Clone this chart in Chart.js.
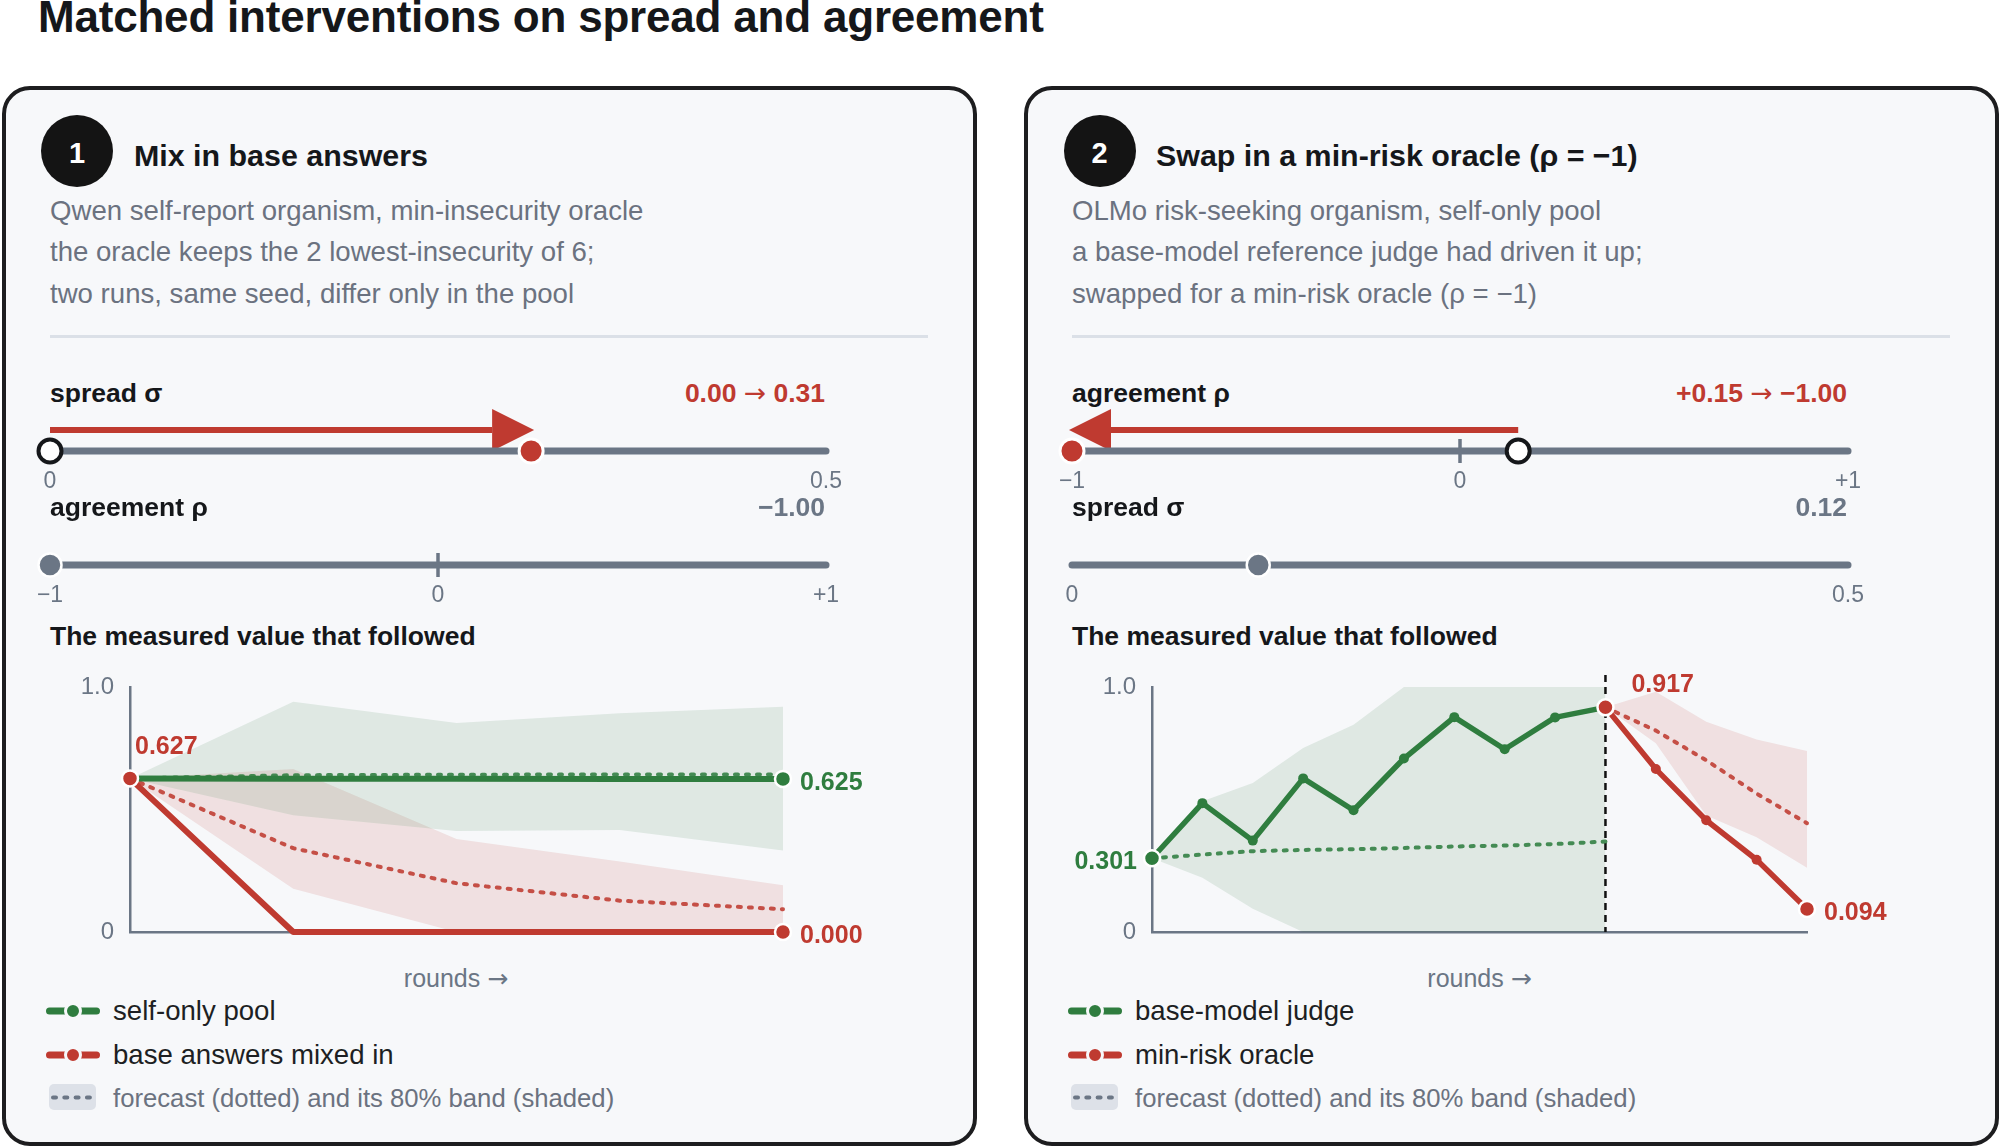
<!DOCTYPE html>
<html>
<head>
<meta charset="utf-8">
<title>Matched interventions on spread and agreement</title>
<script src="https://cdn.jsdelivr.net/npm/chart.js@4.4.1/dist/chart.umd.min.js"></script>
<style>
  html, body { margin: 0; padding: 0; background: #fff; }
  body {
    width: 2000px; height: 1147px; position: relative; overflow: hidden;
    font-family: "Liberation Sans", Arial, Helvetica, sans-serif;
  }
  .panel {
    position: absolute; top: 86px; width: 975px; height: 1060px;
    box-sizing: border-box; border: 4.5px solid #1d1d1f; border-radius: 28px;
    background: #f7f8fa;
  }
  .t { position: absolute; line-height: 1; white-space: nowrap; }
  .arw { font-family: "DejaVu Sans", sans-serif; font-weight: normal; }
  .title { font-weight: bold; font-size: 44px; color: #15171a; letter-spacing: -0.2px; }
  .head { font-weight: bold; font-size: 30.4px; color: #15171a; }
  .sub { font-size: 27.6px; color: #6b7280; }
  .lab { font-weight: bold; font-size: 26.5px; color: #15171a; }
  .val { font-weight: bold; font-size: 26.5px; color: #6b7685; }
  .val.red { color: #bf3a30; }
  .axis { font-size: 25px; color: #6b7685; }
  .key-text { font-size: 27.6px; color: #1d1f23; }
  .key-text.muted { font-size: 25.7px; color: #6b7280; }
  .badge {
    position: absolute; width: 72px; height: 72px; border-radius: 50%; background: #141414;
  }
  .num { font-weight: bold; font-size: 29px; color: #fff; }
  .rule { position: absolute; height: 3px; background: #dbe0e7; }
  canvas, svg { position: absolute; }
</style>
</head>
<body>

<div class="t title" data-x="38" data-base="32.5">Matched interventions on spread and agreement</div>

<!-- panel 1 -->
<div class="panel" style="left:2px"></div>
<div class="badge" style="left:41px; top:115px"></div>
<div class="t num" data-center="77" data-base="164">1</div>
<div class="t head" data-x="134" data-base="165.5">Mix in base answers</div>
<div class="t sub" data-x="50" data-base="220">Qwen self-report organism, min-insecurity oracle</div>
<div class="t sub" data-x="50" data-base="261.5">the oracle keeps the 2 lowest-insecurity of 6;</div>
<div class="t sub" data-x="50" data-base="303">two runs, same seed, differ only in the pool</div>
<div class="rule" style="left:50px; top:335px; width:878px"></div>

<div class="t lab" data-x="50" data-base="402">spread σ</div>
<div class="t val red" id="p1SpreadText" data-right="825" data-base="402"></div>
<canvas id="p1SpreadSlider" width="856" height="100" style="left:10px; top:401px"></canvas>

<div class="t lab" data-x="50" data-base="516">agreement ρ</div>
<div class="t val" id="p1AgreeText" data-right="825" data-base="516"></div>
<canvas id="p1AgreeSlider" width="856" height="100" style="left:10px; top:515px"></canvas>

<div class="t lab" data-x="50" data-base="645">The measured value that followed</div>
<canvas id="p1Trend" width="863" height="302" style="left:40px; top:650px"></canvas>
<div class="t axis" data-center="456" data-base="987">rounds <span class="arw">→</span></div>

<svg style="left:44px; top:1000px" width="58" height="22">
  <line x1="5.5" y1="11" x2="52.5" y2="11" stroke="#2f7d3f" stroke-width="7" stroke-linecap="round"/>
  <circle cx="29" cy="11" r="7.5" fill="#2f7d3f" stroke="#f7f8fa" stroke-width="3"/>
</svg>
<div class="t key-text" data-x="113" data-base="1020.5">self-only pool</div>
<svg style="left:44px; top:1044px" width="58" height="22">
  <line x1="5.5" y1="11" x2="52.5" y2="11" stroke="#bf3a30" stroke-width="7" stroke-linecap="round"/>
  <circle cx="29" cy="11" r="7.5" fill="#bf3a30" stroke="#f7f8fa" stroke-width="3"/>
</svg>
<div class="t key-text" data-x="113" data-base="1064">base answers mixed in</div>
<svg style="left:44px; top:1084px" width="58" height="26">
  <rect x="5" y="0" width="47" height="26" rx="5" fill="#dde1e8"/>
  <line x1="9" y1="13.5" x2="48" y2="13.5" stroke="#6b7685" stroke-width="4" stroke-dasharray="3 8.3" stroke-linecap="round"/>
</svg>
<div class="t key-text muted" data-x="113" data-base="1108">forecast (dotted) and its 80% band (shaded)</div>

<!-- panel 2 -->
<div class="panel" style="left:1024px"></div>
<div class="badge" style="left:1063.5px; top:115px"></div>
<div class="t num" data-center="1099.5" data-base="164">2</div>
<div class="t head" data-x="1156" data-base="165.5">Swap in a min-risk oracle (ρ = −1)</div>
<div class="t sub" data-x="1072" data-base="220">OLMo risk-seeking organism, self-only pool</div>
<div class="t sub" data-x="1072" data-base="261.5">a base-model reference judge had driven it up;</div>
<div class="t sub" data-x="1072" data-base="303">swapped for a min-risk oracle (ρ = −1)</div>
<div class="rule" style="left:1072px; top:335px; width:878px"></div>

<div class="t lab" data-x="1072" data-base="402">agreement ρ</div>
<div class="t val red" id="p2AgreeText" data-right="1847" data-base="402"></div>
<canvas id="p2AgreeSlider" width="856" height="100" style="left:1032px; top:401px"></canvas>

<div class="t lab" data-x="1072" data-base="516">spread σ</div>
<div class="t val" id="p2SpreadText" data-right="1847" data-base="516"></div>
<canvas id="p2SpreadSlider" width="856" height="100" style="left:1032px; top:515px"></canvas>

<div class="t lab" data-x="1072" data-base="645">The measured value that followed</div>
<canvas id="p2Trend" width="865" height="302" style="left:1062px; top:650px"></canvas>
<div class="t axis" data-center="1479.5" data-base="987">rounds <span class="arw">→</span></div>

<svg style="left:1066px; top:1000px" width="58" height="22">
  <line x1="5.5" y1="11" x2="52.5" y2="11" stroke="#2f7d3f" stroke-width="7" stroke-linecap="round"/>
  <circle cx="29" cy="11" r="7.5" fill="#2f7d3f" stroke="#f7f8fa" stroke-width="3"/>
</svg>
<div class="t key-text" data-x="1135" data-base="1020.5">base-model judge</div>
<svg style="left:1066px; top:1044px" width="58" height="22">
  <line x1="5.5" y1="11" x2="52.5" y2="11" stroke="#bf3a30" stroke-width="7" stroke-linecap="round"/>
  <circle cx="29" cy="11" r="7.5" fill="#bf3a30" stroke="#f7f8fa" stroke-width="3"/>
</svg>
<div class="t key-text" data-x="1135" data-base="1064">min-risk oracle</div>
<svg style="left:1066px; top:1084px" width="58" height="26">
  <rect x="5" y="0" width="47" height="26" rx="5" fill="#dde1e8"/>
  <line x1="9" y1="13.5" x2="48" y2="13.5" stroke="#6b7685" stroke-width="4" stroke-dasharray="3 8.3" stroke-linecap="round"/>
</svg>
<div class="t key-text muted" data-x="1135" data-base="1108">forecast (dotted) and its 80% band (shaded)</div>

<script>
// ---- slider scales ----
const spreadRange = [0, 0.5];
const spreadTicks = [0, 0.5];
const spreadTickText = ['0', '0.5'];
const agreeRange = [-1, 1];
const agreeTicks = [-1, 0, 1];
const agreeTickText = ['\u22121', '0', '+1'];

// panel 1: spread pushed from 0 to 0.31, agreement stays at -1
const p1SpreadFrom = 0.00;
const p1SpreadTo = 0.31;
const p1Agreement = -1.00;

// panel 2: agreement pushed from +0.15 to -1, spread stays at 0.12
const p2AgreeFrom = 0.15;
const p2AgreeTo = -1.00;
const p2Spread = 0.12;

// ---- measured value, panel 1 (5 rounds) ----
const p1Rounds = [0, 1, 2, 3, 4];
const p1SelfMeasured = [0.627, 0.626, 0.626, 0.625, 0.625];
const p1SelfForecast = [0.627, 0.640, 0.642, 0.643, 0.643];
const p1SelfBandHigh = [0.627, 0.940, 0.853, 0.893, 0.919];
const p1SelfBandLow  = [0.627, 0.477, 0.412, 0.416, 0.333];
const p1MixedMeasured = [0.627, 0.000, 0.000, 0.000, 0.000];
const p1MixedForecast = [0.627, 0.342, 0.199, 0.128, 0.093];
const p1MixedBandHigh = [0.627, 0.665, 0.380, 0.288, 0.191];
const p1MixedBandLow  = [0.627, 0.177, 0.000, 0.000, 0.000];

// ---- measured value, panel 2 (14 rounds, oracle swapped in at round 9) ----
const p2Rounds = [0, 1, 2, 3, 4, 5, 6, 7, 8, 9, 10, 11, 12, 13];
const p2SwitchRound = 9;
const p2JudgeMeasured = [0.301, 0.526, 0.373, 0.627, 0.497, 0.708, 0.877, 0.746, 0.876, 0.917, null, null, null, null];
const p2JudgeForecast = [0.301, 0.316, 0.330, 0.335, 0.338, 0.343, 0.349, 0.353, 0.359, 0.369, null, null, null, null];
const p2JudgeBandHigh = [0.301, 0.534, 0.608, 0.751, 0.846, 1.000, 1.000, 1.000, 1.000, 1.000, null, null, null, null];
const p2JudgeBandLow  = [0.301, 0.221, 0.095, 0.000, 0.000, 0.000, 0.000, 0.000, 0.000, 0.000, null, null, null, null];
const p2OracleMeasured = [null, null, null, null, null, null, null, null, null, 0.917, 0.665, 0.456, 0.295, 0.094];
const p2OracleForecast = [null, null, null, null, null, null, null, null, null, 0.917, 0.822, 0.701, 0.565, 0.444];
const p2OracleBandHigh = [null, null, null, null, null, null, null, null, null, 0.917, 0.981, 0.858, 0.786, 0.739];
const p2OracleBandLow  = [null, null, null, null, null, null, null, null, null, 0.917, 0.770, 0.476, 0.387, 0.262];

const yTickValues = [0, 1];
const yTickText = ['0', '1.0'];

const GREEN = '#2f7d3f';
const RED = '#bf3a30';
const SLATE = '#6b7685';
const INK = '#15171a';
const FONT = '"Liberation Sans", Arial, Helvetica, sans-serif';

Chart.defaults.font.family = FONT;

function fmt(v, signed) {
    const s = Math.abs(v).toFixed(2);
    if (v < 0) return '\u2212' + s;
    return (signed ? '+' : '') + s;
}

function setArrowText(id, left, right) {
    const el = document.getElementById(id);
    el.innerHTML = '';
    el.append(left + ' ');
    const a = document.createElement('span');
    a.className = 'arw';
    a.textContent = '\u2192';
    el.append(a, ' ' + right);
}

/**
 * Slider: track, markers and the push arrow
 */
const sliderDecor = {
    id: 'sliderDecor',
    beforeDatasetsDraw(chart, args, opts) {
        const { ctx, scales: { x, y } } = chart;
        const yTrack = y.getPixelForValue(0);
        ctx.save();
        if (opts.midTick !== undefined) {
            const xm = x.getPixelForValue(opts.midTick);
            ctx.strokeStyle = SLATE;
            ctx.lineWidth = 3.5;
            ctx.beginPath();
            ctx.moveTo(xm, yTrack - 12);
            ctx.lineTo(xm, yTrack + 12);
            ctx.stroke();
        }
        if (opts.arrow) {
            const xf = x.getPixelForValue(opts.arrow.from);
            const xt = x.getPixelForValue(opts.arrow.to);
            const dir = Math.sign(xt - xf);
            const tip = xt + dir * 3;
            const base = tip - dir * 42;
            const ya = yTrack - 21;
            ctx.strokeStyle = RED;
            ctx.fillStyle = RED;
            ctx.lineWidth = 6;
            ctx.beginPath();
            ctx.moveTo(xf, ya);
            ctx.lineTo(base, ya);
            ctx.stroke();
            ctx.beginPath();
            ctx.moveTo(tip, ya);
            ctx.lineTo(base, ya - 21);
            ctx.lineTo(base, ya + 21);
            ctx.closePath();
            ctx.fill();
        }
        ctx.restore();
    },
    afterDraw(chart, args, opts) {
        const { ctx, scales: { x, y } } = chart;
        const yTrack = y.getPixelForValue(0);
        ctx.save();
        ctx.font = '23px ' + FONT;
        ctx.fillStyle = SLATE;
        ctx.textAlign = 'center';
        ctx.textBaseline = 'alphabetic';
        opts.ticks.forEach((v, i) => {
            ctx.fillText(opts.tickText[i], x.getPixelForValue(v), yTrack + 36.5);
        });
        ctx.restore();
    }
};

function makeSlider(canvasId, s) {
    const datasets = [{
        data: [{ x: s.range[0], y: 0 }, { x: s.range[1], y: 0 }],
        showLine: true,
        borderColor: SLATE,
        borderWidth: 7,
        borderCapStyle: 'round',
        pointRadius: 0,
        order: 5
    }];
    if (s.from !== undefined) {
        datasets.push({
            data: [{ x: s.from, y: 0 }],
            pointRadius: 11.5,
            pointBackgroundColor: '#fff',
            pointBorderColor: INK,
            pointBorderWidth: 4,
            order: 2
        });
    }
    if (s.to !== undefined) {
        datasets.push({
            data: [{ x: s.to, y: 0 }],
            pointRadius: 12,
            pointBackgroundColor: RED,
            pointBorderColor: '#fff',
            pointBorderWidth: 3,
            order: 1
        });
    }
    if (s.value !== undefined) {
        datasets.push({
            data: [{ x: s.value, y: 0 }],
            pointRadius: 11.5,
            pointBackgroundColor: SLATE,
            pointBorderColor: '#fff',
            pointBorderWidth: 2.5,
            order: 1
        });
    }

    new Chart(document.getElementById(canvasId), {
        type: 'scatter',
        data: { datasets: datasets.map(d => ({ clip: false, ...d })) },
        options: {
            responsive: false,
            animation: false,
            events: [],
            layout: { padding: { left: 40, right: 40, top: 30, bottom: 30 } },
            scales: {
                x: { type: 'linear', min: s.range[0], max: s.range[1], display: false },
                y: { type: 'linear', min: -1, max: 1, display: false }
            },
            plugins: {
                legend: { display: false },
                tooltip: { enabled: false },
                sliderDecor: {
                    ticks: s.ticks,
                    tickText: s.tickText,
                    midTick: s.midTick,
                    arrow: s.from !== undefined ? { from: s.from, to: s.to } : null
                }
            }
        },
        plugins: [sliderDecor]
    });
}

/**
 * Measured-value chart: bands, forecasts, measured runs and end labels
 */
const trendDecor = {
    id: 'trendDecor',
    beforeDatasetsDraw(chart) {
        chart.$switchDrawn = false;
    },
    beforeDatasetDraw(chart, args, opts) {
        if (opts.switchRound === undefined || chart.$switchDrawn) return;
        if (args.meta.order !== 5) return;
        chart.$switchDrawn = true;
        const { ctx, chartArea, scales: { x } } = chart;
        const xs = x.getPixelForValue(opts.switchRound);
        ctx.save();
        ctx.strokeStyle = '#111';
        ctx.lineWidth = 2.5;
        ctx.setLineDash([7, 5]);
        ctx.beginPath();
        ctx.moveTo(xs, chartArea.top - 12);
        ctx.lineTo(xs, chartArea.bottom);
        ctx.stroke();
        ctx.restore();
    },
    afterDatasetsDraw(chart, args, opts) {
        const ctx = chart.ctx;
        ctx.save();
        ctx.font = 'bold 25px ' + FONT;
        ctx.textBaseline = 'alphabetic';
        opts.labels.forEach(l => {
            const pt = chart.getDatasetMeta(l.ds).data[l.i];
            const v = chart.data.datasets[l.ds].data[l.i];
            ctx.fillStyle = l.color;
            ctx.textAlign = l.align;
            ctx.fillText(v.toFixed(3), pt.x + l.dx, pt.y + l.dy);
        });
        ctx.restore();
    }
};

function markerRadii(values, first, last, mid) {
    const idx = values.map((v, i) => (v === null ? -1 : i)).filter(i => i >= 0);
    const a = idx[0];
    const b = idx[idx.length - 1];
    return values.map((v, i) => (i === a ? first : i === b ? last : mid));
}

function alpha(hex, a) {
    const n = parseInt(hex.slice(1), 16);
    return `rgba(${n >> 16}, ${(n >> 8) & 255}, ${n & 255}, ${a})`;
}

function makeTrend(canvasId, cfg) {
    const datasets = [];
    cfg.groups.forEach(g => {
        datasets.push({
            data: g.bandHigh, borderWidth: 0, pointRadius: 0, fill: false, order: 10
        });
        datasets.push({
            data: g.bandLow, borderWidth: 0, pointRadius: 0,
            fill: '-1', backgroundColor: alpha(g.color, 0.12), order: 10
        });
        datasets.push({
            data: g.forecast, borderColor: alpha(g.color, 0.88), borderWidth: 4,
            borderDash: [3, 8], borderCapStyle: 'round', pointRadius: 0, order: 5
        });
        const radii = markerRadii(g.measured, g.firstMarker, g.lastMarker, g.midMarker);
        datasets.push({
            data: g.measured,
            borderColor: g.color,
            borderWidth: cfg.lineWidth,
            borderJoinStyle: 'round',
            pointRadius: radii,
            pointBackgroundColor: g.color,
            pointBorderColor: '#fff',
            pointBorderWidth: radii.map(r => (r >= 8 ? 2.5 : 0)),
            order: g.order
        });
    });

    new Chart(document.getElementById(canvasId), {
        type: 'line',
        data: {
            labels: cfg.rounds,
            datasets: datasets.map(d => ({ clip: false, tension: 0, spanGaps: false, ...d }))
        },
        options: {
            responsive: false,
            animation: false,
            events: [],
            layout: { padding: { left: 0, right: cfg.padRight, top: 37, bottom: 0 } },
            scales: {
                x: {
                    type: 'category',
                    offset: false,
                    grid: { display: false, drawTicks: false },
                    border: { display: true, color: SLATE, width: 2.5 },
                    ticks: { display: false },
                    afterFit: s => { s.height = 20; }
                },
                y: {
                    min: 0,
                    max: 1,
                    grid: { display: false, drawTicks: false },
                    border: { display: true, color: SLATE, width: 2.5 },
                    afterBuildTicks: s => { s.ticks = yTickValues.map(v => ({ value: v })); },
                    afterFit: s => { s.width = 90; s.paddingTop = 0; s.paddingBottom = 0; },
                    ticks: {
                        padding: 16,
                        color: SLATE,
                        font: { size: 24 },
                        callback: v => yTickText[yTickValues.indexOf(v)]
                    }
                }
            },
            plugins: {
                legend: { display: false },
                tooltip: { enabled: false },
                trendDecor: { switchRound: cfg.switchRound, labels: cfg.labels }
            }
        },
        plugins: [trendDecor]
    });
}

// ---- text from the values ----
setArrowText('p1SpreadText', fmt(p1SpreadFrom), fmt(p1SpreadTo));
document.getElementById('p1AgreeText').textContent = fmt(p1Agreement);
setArrowText('p2AgreeText', fmt(p2AgreeFrom, true), fmt(p2AgreeTo));
document.getElementById('p2SpreadText').textContent = fmt(p2Spread);

// place text by baseline (Liberation Sans: baseline sits 0.8465em below a line-height:1 box top)
document.querySelectorAll('.t').forEach(el => {
    const fs = parseFloat(getComputedStyle(el).fontSize);
    el.style.top = (parseFloat(el.dataset.base) - 0.8465 * fs) + 'px';
    const w = el.getBoundingClientRect().width;
    if (el.dataset.right) el.style.left = (parseFloat(el.dataset.right) - w) + 'px';
    else if (el.dataset.center) el.style.left = (parseFloat(el.dataset.center) - w / 2) + 'px';
    else el.style.left = el.dataset.x + 'px';
});

// ---- sliders ----
makeSlider('p1SpreadSlider', {
    range: spreadRange, ticks: spreadTicks, tickText: spreadTickText,
    from: p1SpreadFrom, to: p1SpreadTo
});
makeSlider('p1AgreeSlider', {
    range: agreeRange, ticks: agreeTicks, tickText: agreeTickText,
    midTick: 0, value: p1Agreement
});
makeSlider('p2AgreeSlider', {
    range: agreeRange, ticks: agreeTicks, tickText: agreeTickText,
    midTick: 0, from: p2AgreeFrom, to: p2AgreeTo
});
makeSlider('p2SpreadSlider', {
    range: spreadRange, ticks: spreadTicks, tickText: spreadTickText,
    value: p2Spread
});

// ---- measured value charts ----
// dataset indices per group: band high, band low, forecast, measured
makeTrend('p1Trend', {
    rounds: p1Rounds,
    lineWidth: 6,
    padRight: 120,
    groups: [
        { color: GREEN, order: 2, bandHigh: p1SelfBandHigh, bandLow: p1SelfBandLow,
          forecast: p1SelfForecast, measured: p1SelfMeasured, firstMarker: 0, lastMarker: 8, midMarker: 0 },
        { color: RED, order: 1, bandHigh: p1MixedBandHigh, bandLow: p1MixedBandLow,
          forecast: p1MixedForecast, measured: p1MixedMeasured, firstMarker: 8, lastMarker: 8, midMarker: 0 }
    ],
    labels: [
        { ds: 7, i: 0, color: RED, align: 'left', dx: 5, dy: -24 },
        { ds: 3, i: 4, color: GREEN, align: 'left', dx: 17, dy: 11 },
        { ds: 7, i: 4, color: RED, align: 'left', dx: 17, dy: 11 }
    ]
});

makeTrend('p2Trend', {
    rounds: p2Rounds,
    lineWidth: 5.5,
    padRight: 120,
    switchRound: p2SwitchRound,
    groups: [
        { color: GREEN, order: 2, bandHigh: p2JudgeBandHigh, bandLow: p2JudgeBandLow,
          forecast: p2JudgeForecast, measured: p2JudgeMeasured, firstMarker: 8, lastMarker: 0, midMarker: 5 },
        { color: RED, order: 1, bandHigh: p2OracleBandHigh, bandLow: p2OracleBandLow,
          forecast: p2OracleForecast, measured: p2OracleMeasured, firstMarker: 8, lastMarker: 8, midMarker: 5 }
    ],
    labels: [
        { ds: 3, i: 0, color: GREEN, align: 'right', dx: -15, dy: 11 },
        { ds: 7, i: 9, color: RED, align: 'left', dx: 26, dy: -15 },
        { ds: 7, i: 13, color: RED, align: 'left', dx: 17, dy: 11 }
    ]
});
</script>
</body>
</html>
